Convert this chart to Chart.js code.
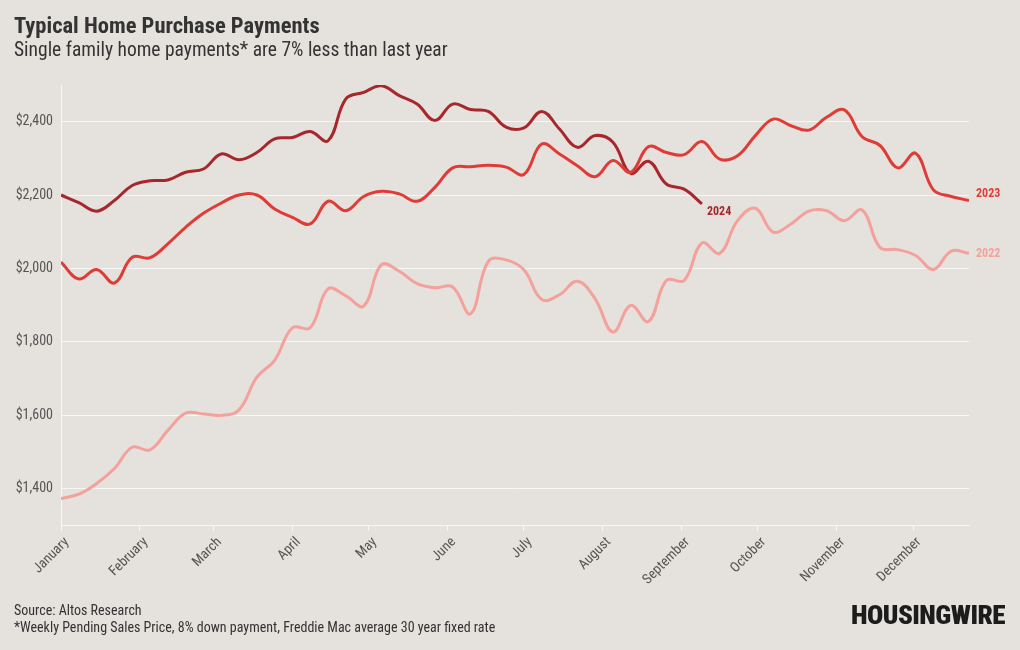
<!DOCTYPE html>
<html>
<head>
<meta charset="utf-8">
<script src="https://cdn.jsdelivr.net/npm/chart.js@4.4.1/dist/chart.umd.min.js"></script>
<style>
  html, body { margin: 0; padding: 0; background: #e5e1dd; }
  body { width: 1020px; height: 650px; position: relative; overflow: hidden;
         font-family: 'Roboto Condensed', 'Liberation Sans Narrow', 'DejaVu Sans Condensed', sans-serif; color: #333; }
  #wrap { position: absolute; left: 0; top: 0; width: 1020px; height: 650px; }
  .txt { position: absolute; white-space: nowrap; }
  #title { left: 14px; top: 12px; font-size: 22.5px; font-weight: bold; color: #333; }
  #subtitle { left: 14px; top: 38px; font-size: 19.5px; color: #333; }
  #source { left: 14px; top: 602px; font-size: 14px; color: #333; }
  #note { left: 14px; top: 619px; font-size: 14px; color: #333; }
  #logo { left: 851px; top: 601px; font-size: 25px; font-weight: 900; color: #1c1c1c;
          transform-origin: left top; display: inline-block; letter-spacing: -0.5px; }
</style>
</head>
<body>
<div id="wrap"><canvas id="paymentsChart" width="1020" height="650"></canvas></div>
<div class="txt" id="title">Typical Home Purchase Payments</div>
<div class="txt" id="subtitle">Single family home payments* are 7% less than last year</div>
<div class="txt" id="source">Source: Altos Research</div>
<div class="txt" id="note">*Weekly Pending Sales Price, 8% down payment, Freddie Mac average 30 year fixed rate</div>
<div class="txt" id="logo">HOUSINGWIRE</div>
<script>
// weekly values, week 0 = first week of January
const payments2022 = [1372, 1384, 1413, 1454, 1512, 1505, 1558, 1605, 1603, 1599,
    1614, 1703, 1749, 1838, 1838, 1944, 1925, 1897, 2010, 1992,
    1958, 1947, 1949, 1876, 2019, 2023, 1996, 1915, 1928, 1965,
    1917, 1826, 1899, 1855, 1967, 1967, 2069, 2041, 2130, 2164,
    2099, 2121, 2156, 2157, 2130, 2159, 2057, 2051, 2035, 1997,
    2047, 2041];
const payments2023 = [2017, 1971, 1997, 1960, 2030, 2029, 2067, 2112, 2150, 2178,
    2200, 2200, 2162, 2139, 2121, 2183, 2157, 2196, 2210, 2203,
    2183, 2221, 2274, 2277, 2281, 2276, 2256, 2339, 2312, 2280,
    2250, 2294, 2262, 2332, 2316, 2310, 2346, 2298, 2307, 2362,
    2407, 2389, 2377, 2412, 2432, 2359, 2335, 2274, 2314, 2214,
    2196, 2185];
const payments2024 = [2200, 2179, 2156, 2185, 2226, 2239, 2241, 2262, 2271, 2312,
    2296, 2316, 2353, 2357, 2373, 2348, 2462, 2480, 2498, 2471,
    2448, 2403, 2448, 2433, 2428, 2385, 2383, 2428, 2380, 2330,
    2362, 2344, 2259, 2292, 2230, 2216, 2176];

const monthLabels = ['January', 'February', 'March', 'April', 'May', 'June',
    'July', 'August', 'September', 'October', 'November', 'December'];
const monthStartDay = [0, 31, 60, 91, 121, 152, 182, 213, 244, 274, 305, 335];
const yTicks = [1400, 1600, 1800, 2000, 2200, 2400];

const fontFamily = "'Roboto Condensed', 'Liberation Sans Narrow', 'DejaVu Sans Condensed', sans-serif";

// squeeze the logo to its width in the original
const logo = document.getElementById('logo');
logo.style.transform = 'scaleX(' + (154 / logo.offsetWidth) + ')';

function toPoints(values) {
    return values.map((v, i) => ({ x: i, y: v }));
}

// draws the year at the end of each line
const endLabels = {
    id: 'endLabels',
    afterDatasetsDraw(chart) {
        const ctx = chart.ctx;
        ctx.save();
        ctx.font = 'bold 12px ' + fontFamily;
        ctx.textBaseline = 'middle';
        chart.data.datasets.forEach((ds, i) => {
            const meta = chart.getDatasetMeta(i);
            const last = meta.data[meta.data.length - 1];
            ctx.fillStyle = ds.borderColor;
            ctx.fillText(ds.label, last.x + ds.labelDx, last.y + ds.labelDy);
        });
        ctx.restore();
    }
};

new Chart(document.getElementById('paymentsChart'), {
    type: 'line',
    data: {
        datasets: [
            { label: '2022', data: toPoints(payments2022), borderColor: '#f4a19b', labelDx: 7, labelDy: 1 },
            { label: '2023', data: toPoints(payments2023), borderColor: '#e03c37', labelDx: 7, labelDy: -7 },
            { label: '2024', data: toPoints(payments2024), borderColor: '#a6282c', labelDx: 5, labelDy: 8 }
        ]
    },
    options: {
        responsive: false,
        animation: false,
        layout: { padding: { left: 0, top: 85, right: 51, bottom: 0 } },
        elements: {
            line: { borderWidth: 3, tension: 0.4, fill: false },
            point: { radius: 0 }
        },
        plugins: {
            legend: { display: false },
            tooltip: { enabled: false }
        },
        scales: {
            x: {
                type: 'linear',
                min: 0,
                max: 51,
                afterFit(scale) { scale.height = 125; },
                afterBuildTicks(scale) {
                    scale.ticks = monthStartDay.map(d => ({ value: d / 7 }));
                },
                ticks: {
                    autoSkip: false,
                    minRotation: 45,
                    maxRotation: 45,
                    padding: 3,
                    labelOffset: 6,
                    color: '#555',
                    font: { family: fontFamily, size: 14 },
                    callback: (v, i) => monthLabels[i]
                },
                grid: { drawOnChartArea: false, drawTicks: true, tickLength: 6, color: '#f7f7f7' },
                border: { display: true, color: '#f7f7f7' }
            },
            y: {
                min: 1300,
                max: 2500,
                afterFit(scale) { scale.width = 61; },
                afterBuildTicks(scale) {
                    scale.ticks = yTicks.map(v => ({ value: v }));
                },
                ticks: {
                    padding: 8,
                    color: '#555',
                    font: { family: fontFamily, size: 14 },
                    callback: v => '$' + v.toLocaleString('en-US')
                },
                grid: { drawTicks: false, color: '#f7f7f7' },
                border: { display: true, color: '#f7f7f7' }
            }
        }
    },
    plugins: [endLabels]
});
</script>
</body>
</html>
